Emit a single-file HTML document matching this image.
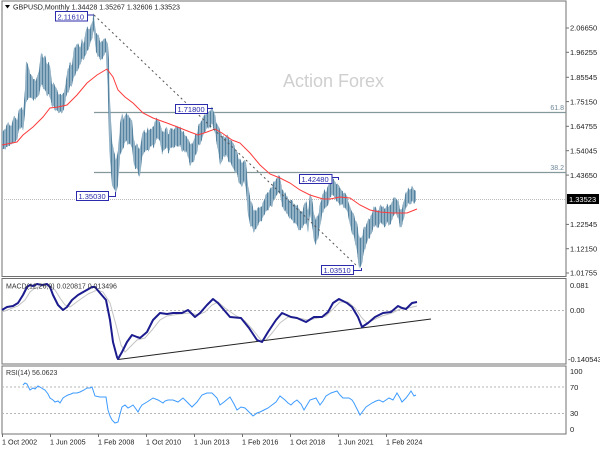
<!DOCTYPE html>
<html><head><meta charset="utf-8"><style>
html,body{margin:0;padding:0;background:#fff;}
svg{display:block;}
text{font-family:"Liberation Sans",sans-serif;}
</style></head><body>
<svg width="600" height="450" viewBox="0 0 600 450" xmlns="http://www.w3.org/2000/svg">
<defs>
<pattern id="bars" width="3" height="20" patternUnits="userSpaceOnUse">
<rect x="0" y="0" width="3" height="20" fill="#bccfdc"/>
<rect x="0" y="0" width="1" height="20" fill="#54829f"/>
<rect x="1.5" y="0" width="1" height="20" fill="#6a94b0"/>
</pattern>
<filter id="jag" x="-2%" y="-10%" width="104%" height="120%" color-interpolation-filters="sRGB">
<feTurbulence type="fractalNoise" baseFrequency="0.6 0.0008" numOctaves="1" seed="7" result="n"/>
<feColorMatrix in="n" type="matrix" values="0 0 0 0 0.5  0 1 0 0 0  0 0 0 0 0  0 0 0 0 1" result="m"/>
<feDisplacementMap in="SourceGraphic" in2="m" scale="9" xChannelSelector="R" yChannelSelector="G"/>
</filter>
</defs>
<rect width="600" height="450" fill="#fff"/>

<!-- watermark -->
<text x="283" y="87" font-size="18" fill="#cfcfcf">Action Forex</text>

<!-- panel frames -->
<rect x="2" y="1" width="564" height="275.5" fill="none" stroke="#707070" stroke-width="1"/>
<rect x="2" y="278.5" width="564" height="85.5" fill="none" stroke="#707070" stroke-width="1"/>
<rect x="2" y="366" width="564" height="68" fill="none" stroke="#707070" stroke-width="1"/>

<!-- fib lines -->
<line x1="94" y1="112.5" x2="566" y2="112.5" stroke="#84999c" stroke-width="1.3"/>
<line x1="94" y1="172.5" x2="566" y2="172.5" stroke="#84999c" stroke-width="1.3"/>
<text x="564" y="110" font-size="7" fill="#6f8797" text-anchor="end">61.8</text>
<text x="564" y="170" font-size="7" fill="#6f8797" text-anchor="end">38.2</text>

<!-- current price line -->
<line x1="2" y1="199.5" x2="566" y2="199.5" stroke="#bdbdbd" stroke-width="1" stroke-dasharray="1,1"/>

<!-- bars envelope -->
<g filter="url(#jag)">
<polygon fill="url(#bars)" points="2,133 5,128 8,123 11,127 14,116 17,120 20,107 23,110 25,90 26,62 28,65 30,73 33,78 36,80 39,70 41,53 43,58 45,55 47,63 50,65 52,83 55,85 58,93 61,95 64,93 66,80 68,68 70,63 72,65 74,48 76,45 78,43 80,48 82,40 84,42 86,30 88,27 90,30 92,20 94,15 96,33 98,35 100,40 102,42 104,38 106,40 108,45 109,60 110,100 112,140 114,150 116,160 118,150 120,125 122,113 124,118 126,113 128,115 130,118 132,120 134,140 136,145 138,145 140,150 142,135 144,130 146,133 148,127 150,130 152,128 154,125 156,118 158,120 160,123 162,130 164,132 166,127 168,133 170,130 172,128 174,130 176,125 178,127 180,128 182,130 184,133 186,135 188,140 190,142 192,145 194,138 196,135 198,128 200,123 202,120 204,115 206,113 208,112 210,110 212,108 214,110 216,122 218,125 220,130 222,135 224,138 226,137 228,135 230,140 232,140 234,145 236,150 238,155 240,160 242,163 244,160 246,162 248,185 250,197 252,205 254,210 256,212 258,207 260,208 262,205 264,200 266,195 268,192 270,190 272,185 274,182 276,178 278,176 280,177 282,188 284,192 286,195 288,198 290,200 292,200 294,203 296,207 298,205 300,210 302,212 304,205 306,200 308,210 310,195 312,198 314,213 316,220 318,215 320,205 322,197 324,190 326,192 328,185 330,180 332,178 334,180 336,183 338,185 340,187 342,190 344,192 346,195 348,200 350,207 352,210 354,215 356,220 358,228 360,240 362,235 364,228 366,225 368,220 370,218 372,213 374,208 376,207 378,210 380,207 382,205 384,208 386,206 388,204 390,205 392,202 394,197 396,198 398,200 400,210 402,208 404,200 406,192 408,188 410,190 412,187 414,189 416,192 416,202 414,203 412,202 410,205 408,203 406,207 404,218 402,225 400,228 398,218 396,212 394,215 392,220 390,225 388,222 386,224 384,227 382,222 380,225 378,227 376,225 374,228 372,232 370,237 368,240 366,245 364,253 362,262 360,270 358,260 356,245 354,237 352,232 350,225 348,215 346,210 344,207 342,203 340,205 338,203 336,200 334,197 332,195 330,198 328,205 326,207 324,210 322,215 320,228 318,238 316,245 314,240 312,225 310,215 308,232 306,222 304,225 302,228 300,230 298,228 296,225 294,222 292,220 290,218 288,215 286,213 284,210 282,205 280,195 278,193 276,195 274,200 272,205 270,207 268,210 266,212 264,215 262,220 260,222 258,225 256,230 254,232 252,228 250,225 248,215 246,190 244,180 242,187 240,185 238,178 236,172 234,170 232,165 230,162 228,160 226,155 224,158 222,160 220,165 218,150 216,140 214,128 212,125 210,127 208,128 206,130 204,133 202,140 200,145 198,147 196,155 194,160 192,163 190,165 188,158 186,150 184,152 182,150 180,146 178,147 176,145 174,148 172,147 170,150 168,152 166,148 164,150 162,153 160,142 158,138 156,140 154,148 152,145 150,148 148,150 146,150 144,153 142,158 140,178 138,172 136,168 134,165 132,148 130,143 128,145 126,140 124,145 122,150 120,157 118,185 116,193 114,188 112,185 110,160 109,140 108,100 106,53 104,55 102,60 100,58 98,57 96,52 94,32 92,37 90,45 88,50 86,55 84,58 82,60 80,65 78,70 76,72 74,77 72,85 70,88 68,92 66,97 64,110 62,113 58,112 55,110 52,105 50,97 47,95 45,90 43,88 41,85 39,95 36,98 33,100 30,97 28,100 26,103 25,115 23,130 20,127 17,140 14,143 11,145 8,147 5,148 2,150"/>
</g>

<!-- moving average -->
<polyline fill="none" stroke="#ff3a3a" stroke-width="1" points="2,145 17,142 23,135 33,127 43,117 50,108 58,107 67,105 77,95 87,83 97,75 107,69 113,77 118,90 125,97 133,103 143,113 153,118 167,123 180,128 190,132 198,135 207,132 215,129 222,133 232,140 240,143 250,153 260,165 270,174 280,178 290,183 300,190 310,195 323,199 330,199 340,197 350,198 360,205 370,210 380,212 393,213 407,213 417,209"/>

<!-- dashed trendline -->
<line x1="94" y1="15" x2="358" y2="267" stroke="#555" stroke-width="1" stroke-dasharray="2,3"/>

<!-- price labels -->
<g font-size="7.5" fill="#2b2bab">
<polyline points="87,15 94,15" fill="none" stroke="#2b2bab" stroke-width="1"/>
<rect x="55.5" y="11.5" width="32" height="9.5" fill="#fff" stroke="#2b2bab" stroke-width="1"/>
<text x="57.5" y="19.5">2.11610</text>
<polyline points="207,108.5 213,108.5" fill="none" stroke="#2b2bab" stroke-width="1"/>
<rect x="175.5" y="104.5" width="32" height="9" fill="#fff" stroke="#2b2bab" stroke-width="1"/>
<text x="177.5" y="112">1.71800</text>
<polyline points="108,196.5 115.5,196.5 115.5,192" fill="none" stroke="#2b2bab" stroke-width="1"/>
<rect x="76.5" y="191.5" width="32" height="9" fill="#fff" stroke="#2b2bab" stroke-width="1"/>
<text x="78.5" y="199">1.35030</text>
<polyline points="332,177.5 338.5,177.5 338.5,180" fill="none" stroke="#2b2bab" stroke-width="1"/>
<rect x="299.5" y="174.5" width="32.5" height="9" fill="#fff" stroke="#2b2bab" stroke-width="1"/>
<text x="301.5" y="182">1.42480</text>
<polyline points="353,270.5 361.5,270.5 361.5,268" fill="none" stroke="#2b2bab" stroke-width="1"/>
<rect x="321.5" y="265.5" width="32" height="9" fill="#fff" stroke="#2b2bab" stroke-width="1"/>
<text x="323.5" y="273">1.03510</text>
</g>

<!-- header -->
<polygon points="5,5 10,5 7.5,8.5" fill="#000"/>
<text x="13" y="9.5" font-size="7.5" fill="#222" textLength="167" lengthAdjust="spacingAndGlyphs">GBPUSD,Monthly  1.34428 1.35267 1.32606 1.33523</text>

<!-- right axis main -->
<g stroke="#707070" stroke-width="1">
<line x1="566" y1="28" x2="569" y2="28"/><line x1="566" y1="52.3" x2="569" y2="52.3"/><line x1="566" y1="77.3" x2="569" y2="77.3"/><line x1="566" y1="101.6" x2="569" y2="101.6"/><line x1="566" y1="126.3" x2="569" y2="126.3"/><line x1="566" y1="150.7" x2="569" y2="150.7"/><line x1="566" y1="175.1" x2="569" y2="175.1"/><line x1="566" y1="224.4" x2="569" y2="224.4"/><line x1="566" y1="248.7" x2="569" y2="248.7"/><line x1="566" y1="273" x2="569" y2="273"/>
</g>
<g font-size="7.5" fill="#222">
<text x="570" y="30.7">2.06650</text>
<text x="570" y="55">1.96255</text>
<text x="570" y="80">1.85545</text>
<text x="570" y="104.3">1.75150</text>
<text x="570" y="129">1.64755</text>
<text x="570" y="153.4">1.54045</text>
<text x="570" y="177.8">1.43650</text>
<text x="570" y="227.1">1.22545</text>
<text x="570" y="251.4">1.12150</text>
<text x="570" y="275.7">1.01755</text>
</g>
<rect x="567" y="194" width="32" height="10" fill="#000"/>
<text x="569" y="202" font-size="7.5" fill="#fff">1.33523</text>

<!-- MACD panel -->
<line x1="2" y1="310.5" x2="566" y2="310.5" stroke="#b5b5b5" stroke-width="1" stroke-dasharray="2,2"/>
<polyline fill="none" stroke="#c4c4c4" stroke-width="1" points="2,312 10,309 18,306 25,300 30,292 35,288 42,286 50,286 55,290 60,298 65,305 70,307 78,301 88,294 97,290 103,292 110,303 116,325 121,345 125,352 130,347 137,340 145,338 152,330 160,320 167,316 180,314 190,313 198,315 205,312 212,305 218,302 225,308 235,315 245,321 253,330 261,340 266,340 272,333 280,323 288,317 298,318 308,320 318,318 326,316 333,309 340,302 348,302 355,308 362,318 367,323 373,320 382,316 392,313 400,309 408,308 417,306"/>
<line x1="118" y1="359.5" x2="431" y2="319" stroke="#222" stroke-width="1"/>
<polyline fill="none" stroke="#1c1c8e" stroke-width="2" stroke-linejoin="round" points="2,310 7,307 13,306 18,303 23,295 27,287 30,285 33,286 37,284 42,285 47,284 50,287 53,295 58,305 63,310 67,307 72,300 78,295 85,291 92,287 95,287 100,293 106,300 110,320 113,342 117,357 118,359 122,352 127,342 132,335 137,337 140,338 147,332 153,320 160,313 167,314 173,313 182,313 188,310 195,317 200,313 207,305 213,299 218,303 230,317 241,318 249,328 257,340 262,342 268,332 276,320 282,313 291,317 297,318 306,322 314,317 322,317 328,312 333,303 339,299 347,303 352,307 358,317 362,327 368,323 375,317 383,313 391,312 398,306 402,308 406,309 412,303 417,302"/>
<text x="6" y="288.5" font-size="7" fill="#333">MACD(12,26,9) 0.020817 0.013496</text>
<g font-size="7.5" fill="#222">
<text x="570" y="288">0.081</text>
<text x="570" y="313">0.00</text>
<text x="568" y="362">-0.140543</text>
</g>

<!-- RSI panel -->
<line x1="2" y1="387" x2="566" y2="387" stroke="#b5b5b5" stroke-width="1" stroke-dasharray="2,2"/>
<line x1="2" y1="413.5" x2="566" y2="413.5" stroke="#b5b5b5" stroke-width="1" stroke-dasharray="2,2"/>
<polyline fill="none" stroke="#3d9bff" stroke-width="1" points="23,385 25,383 27,384 30,390 33,388 35,389 38,386 40,387 43,389 45,390 48,394 50,398 53,400 55,402 58,401 60,403 63,398 66,396 68,395 71,394 73,393 77,393 80,392 84,390 87,388 90,388 92,387 95,396 100,397 106,397 108,410 110,416 112,420 115,423 118,422 120,414 122,407 125,405 128,408 130,407 133,405 136,409 138,412 140,408 142,405 147,402 150,400 153,398 158,400 163,403 165,401 168,400 173,400 178,402 183,398 186,401 188,403 192,407 195,404 197,402 202,395 207,393 212,393 217,398 220,405 224,402 230,397 234,404 237,410 241,407 245,408 249,412 253,416 257,413 260,412 264,410 268,408 272,405 276,402 280,396 285,400 288,403 291,405 294,402 297,400 301,404 304,410 307,405 310,400 313,399 316,398 320,405 323,401 326,396 331,393 334,392 337,391 340,395 343,398 349,398 352,400 354,403 357,409 360,415 363,411 366,407 369,405 372,403 376,401 379,400 383,402 386,400 389,398 393,400 397,393 400,398 402,402 406,398 409,394 411,391 414,396 416,395"/>
<text x="6" y="375" font-size="7" fill="#333">RSI(14) 56.0623</text>
<g font-size="7.5" fill="#222">
<text x="570" y="374">100</text>
<text x="570" y="390">70</text>
<text x="570" y="416">30</text>
<text x="570" y="432">0</text>
</g>

<!-- x axis -->
<g stroke="#707070" stroke-width="1">
<line x1="2.5" y1="434" x2="2.5" y2="437"/><line x1="50.5" y1="434" x2="50.5" y2="437"/><line x1="98.5" y1="434" x2="98.5" y2="437"/><line x1="146.5" y1="434" x2="146.5" y2="437"/><line x1="194.5" y1="434" x2="194.5" y2="437"/><line x1="242.5" y1="434" x2="242.5" y2="437"/><line x1="290.5" y1="434" x2="290.5" y2="437"/><line x1="338.5" y1="434" x2="338.5" y2="437"/><line x1="386.5" y1="434" x2="386.5" y2="437"/>
</g>
<g font-size="7.2" fill="#222">
<text x="2" y="444.5">1 Oct 2002</text>
<text x="50" y="444.5">1 Jun 2005</text>
<text x="98" y="444.5">1 Feb 2008</text>
<text x="146" y="444.5">1 Oct 2010</text>
<text x="194" y="444.5">1 Jun 2013</text>
<text x="242" y="444.5">1 Feb 2016</text>
<text x="290" y="444.5">1 Oct 2018</text>
<text x="338" y="444.5">1 Jun 2021</text>
<text x="386" y="444.5">1 Feb 2024</text>
</g>
</svg>
</body></html>
